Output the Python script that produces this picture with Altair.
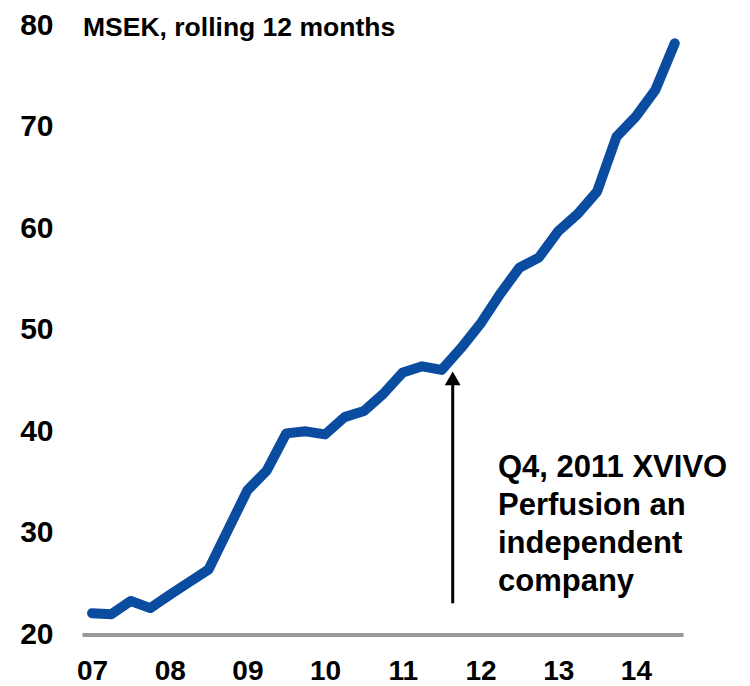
import altair as alt
import pandas as pd

# ---- data ----
quarters = [2007.0, 2007.25, 2007.5, 2007.75,
            2008.0, 2008.25, 2008.5, 2008.75,
            2009.0, 2009.25, 2009.5, 2009.75,
            2010.0, 2010.25, 2010.5, 2010.75,
            2011.0, 2011.25, 2011.5, 2011.75,
            2012.0, 2012.25, 2012.5, 2012.75,
            2013.0, 2013.25, 2013.5, 2013.75,
            2014.0, 2014.25, 2014.5]
sales = [22.1, 22.0, 23.3, 22.6,
         23.9, 25.15, 26.4, 30.3,
         34.2, 36.15, 39.8, 40.0,
         39.7, 41.4, 42.0, 43.7,
         45.8, 46.4, 46.05, 48.2,
         50.6, 53.5, 56.1, 57.1,
         59.7, 61.4, 63.6, 69.0,
         71.0, 73.6, 78.2]
year_ticks = [2007, 2008, 2009, 2010, 2011, 2012, 2013, 2014]
value_ticks = [20, 30, 40, 50, 60, 70, 80]

unit_label = ["MSEK, rolling 12 months"]
unit_pos_t = [2006.884]
unit_pos_v = [78.87]

note_label = ["Q4, 2011 XVIVO\nPerfusion an\nindependent\ncompany"]
note_t = [2012.225]
note_v = [35.5]

arrow_t = [2011.642]
arrow_from = [23.07]
arrow_to = [44.9]
arrow_head = [45.21]

BLUE = "#0A4CA0"
GRAY = "#999999"
FONT = "Liberation Sans, Arial, Helvetica, sans-serif"

x_scale = alt.Scale(domain=[2006.871, 2014.606], nice=False, zero=False)
y_scale = alt.Scale(domain=[20, 80], nice=False, zero=False)

x_axis = alt.Axis(values=year_ticks, format="d", labelExpr="substring(datum.label, 2)",
                  title=None, grid=False, ticks=False, domainColor=GRAY, domainWidth=4,
                  labelFontSize=28, labelFontWeight="bold", labelFont=FONT,
                  labelColor="black", labelPadding=23, labelFlush=False, labelOverlap=False)
y_axis = alt.Axis(values=value_ticks, title=None, grid=False, ticks=False, domain=False,
                  labelFontSize=30, labelFontWeight="bold", labelFont=FONT,
                  labelColor="black", labelPadding=29, labelOverlap=False)

line_df = pd.DataFrame({"t": quarters, "v": sales})
line = alt.Chart(line_df).mark_line(
    color=BLUE, strokeWidth=10, strokeCap="round", strokeJoin="round"
).encode(
    x=alt.X("t:Q", scale=x_scale, axis=x_axis),
    y=alt.Y("v:Q", scale=y_scale, axis=y_axis),
)

unit_df = pd.DataFrame({"t": unit_pos_t, "v": unit_pos_v, "label": unit_label})
unit = alt.Chart(unit_df).mark_text(
    align="left", baseline="alphabetic", fontSize=26.5, fontWeight="bold",
    font=FONT, color="black"
).encode(x=alt.X("t:Q", scale=x_scale), y=alt.Y("v:Q", scale=y_scale), text="label:N")

note_df = pd.DataFrame({"t": note_t, "v": note_v, "label": note_label})
note = alt.Chart(note_df).mark_text(
    align="left", baseline="alphabetic", fontSize=31, fontWeight="bold",
    font=FONT, color="black", lineBreak="\n", lineHeight=38
).encode(x=alt.X("t:Q", scale=x_scale), y=alt.Y("v:Q", scale=y_scale), text="label:N")

arrow_df = pd.DataFrame({"t": arrow_t, "v": arrow_from, "v2": arrow_to, "h": arrow_head})
shaft = alt.Chart(arrow_df).mark_rule(color="black", strokeWidth=3).encode(
    x=alt.X("t:Q", scale=x_scale), y=alt.Y("v:Q", scale=y_scale), y2="v2:Q"
)
head = alt.Chart(arrow_df).mark_point(
    shape="triangle-up", size=250, filled=True, color="black", opacity=1
).encode(x=alt.X("t:Q", scale=x_scale), y=alt.Y("h:Q", scale=y_scale))

chart = alt.layer(line, shaft, head, unit, note).properties(
    width=601, height=609.5,
    padding={"left": 74, "top": 17, "right": 50, "bottom": 52},
    autosize=alt.AutoSizeParams(type="none"),
).configure_view(stroke=None, strokeWidth=0)

chart.save("out.html", embed_options={"renderer": "svg", "actions": False})
